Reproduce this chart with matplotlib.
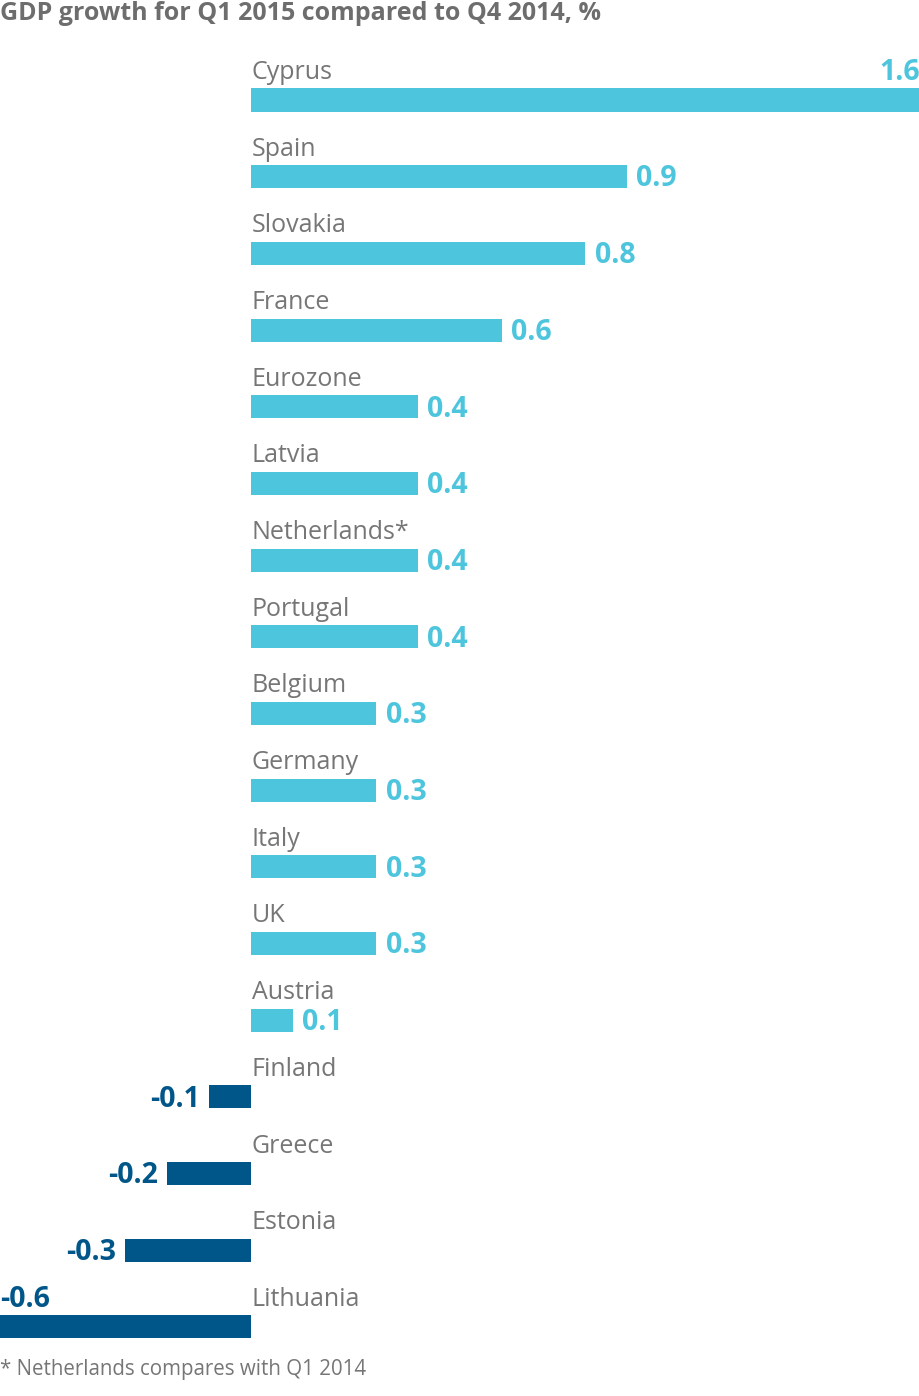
import matplotlib.pyplot as plt

countries = ["Cyprus", "Spain", "Slovakia", "France", "Eurozone", "Latvia",
             "Netherlands*", "Portugal", "Belgium", "Germany", "Italy", "UK",
             "Austria", "Finland", "Greece", "Estonia", "Lithuania"]
growth = [1.6, 0.9, 0.8, 0.6, 0.4, 0.4, 0.4, 0.4, 0.3, 0.3, 0.3, 0.3,
          0.1, -0.1, -0.2, -0.3, -0.6]

light = "#4dc5dd"
dark = "#005689"
grey = "#767676"
font = "Open Sans"

fig = plt.figure(figsize=(9.2, 13.96), dpi=100)
ax = fig.add_axes([0, 0, 1, 1])
ax.set_xlim(-0.6, 1.6)
ax.set_ylim(16.9, -1.304)
ax.axis("off")

ys = list(range(len(countries)))
colors = [light if v >= 0 else dark for v in growth]
ax.barh(ys, growth, height=0.3, color=colors, left=0)

for y, name, v, c in zip(ys, countries, growth, colors):
    ax.text(0.002, y - 0.36, name, ha="left", va="center", fontsize=18,
            color=grey, family=font)
    lab = f"{v:.1f}"
    if v == max(growth):
        ax.text(v, y - 0.36, lab, ha="right", va="center", fontsize=20.5,
                color=c, family=font, fontweight="bold")
    elif v == min(growth):
        ax.text(v, y - 0.36, lab, ha="left", va="center", fontsize=20.5,
                color=c, family=font, fontweight="bold")
    elif v >= 0:
        ax.text(v + 0.022, y + 0.03, lab, ha="left", va="center", fontsize=20.5,
                color=c, family=font, fontweight="bold")
    else:
        ax.text(v - 0.022, y + 0.03, lab, ha="right", va="center", fontsize=20.5,
                color=c, family=font, fontweight="bold")

fig.text(0.0, 1 - 14 / 1396, "GDP growth for Q1 2015 compared to Q4 2014, %",
         ha="left", va="center", fontsize=18, fontweight="bold", color="#6d6d6d",
         family=font)
fig.text(0.0, 1 - 1370 / 1396, "* Netherlands compares with Q1 2014",
         ha="left", va="center", fontsize=14.8, color=grey, family=font)

fig.savefig("out.png", dpi=100)
